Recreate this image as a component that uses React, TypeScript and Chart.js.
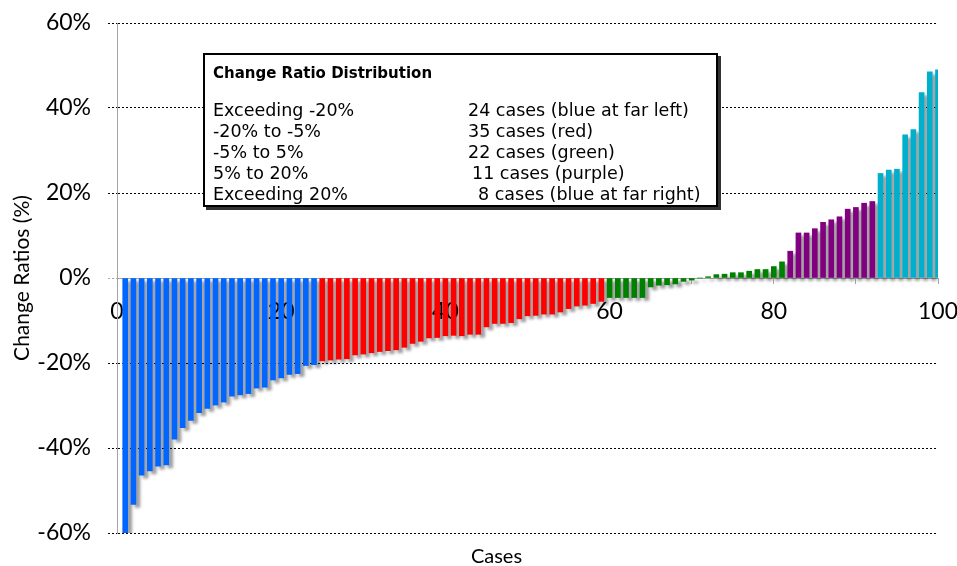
import React, { useEffect, useRef } from 'react';
import { Chart, registerables } from 'chart.js';

Chart.register(...registerables);

// ---- Data (change ratio in %, sorted cases 1..100) ----
const blueLeftValues = [
  -60, -53.3, -46.4, -45.4, -44.3, -44.0, -37.9, -35.2, -33.5, -31.7, -30.7, -29.9,
  -29.2, -27.8, -27.5, -27.2, -25.9, -25.7, -24.0, -23.5, -22.7, -22.5, -20.6, -20.4,
];
const redValues = [
  -19.5, -19.3, -19.1, -19.0, -18.1, -17.9, -17.6, -17.3, -17.1, -16.9, -16.3, -15.4,
  -14.9, -14.1, -14.0, -13.6, -13.5, -13.6, -13.25, -13.25, -11.5, -10.7, -10.7, -10.5,
  -9.6, -8.9, -8.8, -8.5, -8.5, -8.0, -7.2, -6.6, -6.4, -6.0, -5.5,
];
const greenValues = [
  -4.6, -4.6, -4.6, -4.6, -4.6, -2.1, -1.7, -1.6, -1.4, -0.8, -0.5, 0,
  0.3, 0.8, 0.9, 1.25, 1.25, 1.6, 2.0, 2.0, 2.7, 3.8,
];
const purpleValues = [6.3, 10.6, 10.6, 11.6, 13.1, 13.7, 14.4, 16.2, 16.6, 17.6, 18.0];
const blueRightValues = [24.6, 25.4, 25.6, 33.7, 34.9, 43.6, 48.5, 49.0];

const groupColors = ['#0066FF', '#FF0000', '#008000', '#800080', '#00AFCB'];
const groups = [blueLeftValues, redValues, greenValues, purpleValues, blueRightValues];

const yTicks = [-60, -40, -20, 0, 20, 40, 60];
const xLabelStep = 20;

const legendTitle = 'Change Ratio Distribution';
const legendRanges = ['Exceeding -20%', '-20% to -5%', '-5% to 5%', '5% to 20%', 'Exceeding 20%'];
const legendCounts = [
  '24 cases (blue at far left)',
  '35 cases (red)',
  '22 cases (green)',
  '11 cases (purple)',
  '8 cases (blue at far right)',
];
const legendIndent = [0, 0, 0, 4, 10];

const barShadow = {
  id: 'barShadow',
  beforeDatasetDraw(chart: any) {
    const ctx = chart.ctx;
    ctx.save();
    ctx.shadowColor = 'rgba(0,0,0,0.38)';
    ctx.shadowOffsetX = 4;
    ctx.shadowOffsetY = 3;
    ctx.shadowBlur = 3;
  },
  afterDatasetDraw(chart: any) {
    chart.ctx.restore();
  },
};

export default function App() {
  const canvasRef = useRef<HTMLCanvasElement | null>(null);

  useEffect(() => {
    const points: { x: number; y: number }[] = [];
    const colors: string[] = [];
    let idx = 1;
    groups.forEach((g, gi) => {
      g.forEach((v) => {
        points.push({ x: idx, y: v });
        colors.push(groupColors[gi]);
        idx++;
      });
    });

    const tickFont = { family: 'Lato', size: 23 };
    const chart = new Chart(canvasRef.current as HTMLCanvasElement, {
      type: 'bar',
      data: {
        datasets: [
          {
            data: points as any,
            backgroundColor: colors,
            borderWidth: 0,
            barThickness: 5,
          },
        ],
      },
      plugins: [barShadow],
      options: {
        animation: false,
        responsive: false,
        maintainAspectRatio: false,
        layout: { padding: { top: 23, right: 19, bottom: 33, left: 0 } },
        plugins: {
          legend: { display: false },
          tooltip: { enabled: false },
        },
        scales: {
          x: {
            type: 'linear',
            min: 0,
            max: 100,
            offset: false,
            position: { y: 0 } as any,
            afterFit: (s: any) => {
              s.paddingLeft = 0;
              s.paddingRight = 0;
            },
            ticks: {
              stepSize: 10,
              autoSkip: false,
              maxRotation: 0,
              padding: 15,
              color: '#000',
              font: tickFont,
              callback: (v: any) => (Number(v) % xLabelStep === 0 ? String(v) : ''),
            },
            grid: {
              offset: false,
              drawOnChartArea: false,
              drawTicks: true,
              tickLength: 5,
              color: '#A6A6A6',
            },
            border: { color: '#A6A6A6', width: 1 },
          },
          y: {
            type: 'linear',
            min: -60,
            max: 60,
            afterBuildTicks: (s: any) => {
              s.ticks = yTicks.map((v) => ({ value: v }));
            },
            afterFit: (s: any) => {
              s.width = 117;
              s.paddingTop = 0;
              s.paddingBottom = 0;
            },
            ticks: {
              padding: 17,
              color: '#000',
              font: tickFont,
              callback: (v: any) => v + '%',
            },
            grid: {
              color: (c: any) => (c.tick && c.tick.value === 0 ? 'rgba(0,0,0,0)' : '#000'),
              tickColor: (c: any) => (c.tick && c.tick.value === 0 ? '#A6A6A6' : '#000'),
              tickLength: 9,
              tickBorderDash: [2, 2],
              lineWidth: 1,
            },
            border: {
              color: '#A6A6A6',
              width: 1,
              dash: (c: any) => (c.type === 'scale' ? [] : [2, 2]),
            } as any,
            title: {
              display: true,
              text: 'Change Ratios (%)',
              color: '#000',
              font: { family: 'Lato', size: 21 },
              padding: { top: 10, bottom: 0 },
            },
          },
        },
      } as any,
    });
    return () => chart.destroy();
  }, []);

  const legendFont = '"DejaVu Sans", sans-serif';

  return (
    <div style={{ position: 'fixed', left: 0, top: 0, width: 957, height: 566, background: '#fff' }}>
      <canvas ref={canvasRef} width={957} height={566} style={{ display: 'block', width: 957, height: 566 }} />
      <div
        style={{
          position: 'absolute',
          left: 203,
          top: 53,
          width: 511,
          height: 150,
          border: '2px solid #000',
          boxShadow: '3px 3px 0 #333',
          background: '#fff',
          fontFamily: legendFont,
          color: '#000',
        }}
      >
        <div
          style={{
            position: 'absolute',
            left: 8,
            top: 8,
            fontSize: 15,
            fontWeight: 700,
            lineHeight: '21px',
            whiteSpace: 'nowrap',
          }}
        >
          {legendTitle}
        </div>
        {legendRanges.map((r, i) => (
          <div
            key={r}
            style={{
              position: 'absolute',
              left: 8,
              top: 45 + i * 21,
              fontSize: 17.5,
              lineHeight: '21px',
              whiteSpace: 'nowrap',
            }}
          >
            {r}
          </div>
        ))}
        {legendCounts.map((t, i) => (
          <div
            key={t}
            style={{
              position: 'absolute',
              left: 263 + legendIndent[i],
              top: 45 + i * 21,
              fontSize: 17.5,
              lineHeight: '21px',
              whiteSpace: 'nowrap',
            }}
          >
            {t}
          </div>
        ))}
      </div>
      <div
        style={{
          position: 'absolute',
          left: 0,
          width: 993,
          top: 543,
          textAlign: 'center',
          fontFamily: 'Lato',
          fontSize: 20,
          lineHeight: '24px',
          color: '#000',
        }}
      >
        Cases
      </div>
    </div>
  );
}
